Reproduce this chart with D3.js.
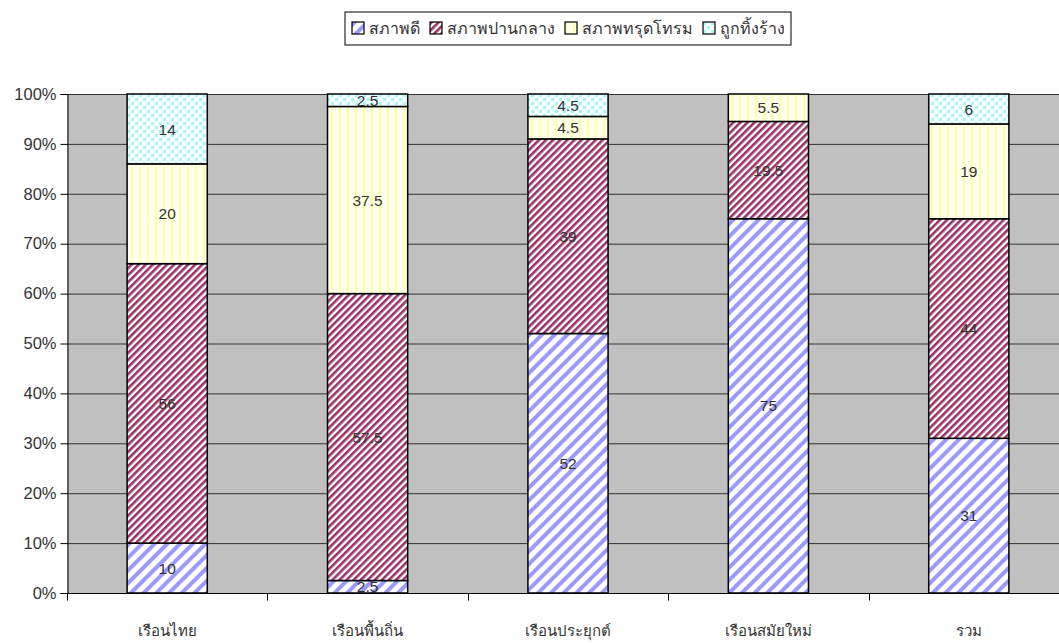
<!DOCTYPE html>
<html>
<head>
<meta charset="utf-8">
<script src="https://cdn.jsdelivr.net/npm/d3@7"></script>
<style>
  body { margin: 0; background: #fff; }
  svg { display: block; font-family: "Liberation Sans", Arial, "Noto Sans", sans-serif; }
</style>
</head>
<body>
<div id="chart"></div>
<script>
// stacked 100% bars - condition of houses by type

const categories = ["เรือนไทย", "เรือนพื้นถิ่น", "เรือนประยุกต์", "เรือนสมัยใหม่", "รวม"];
const seriesNames = ["สภาพดี", "สภาพปานกลาง", "สภาพทรุดโทรม", "ถูกทิ้งร้าง"];
const goodValues = [10, 2.5, 52, 75, 31];
const moderateValues = [56, 57.5, 39, 19.5, 44];
const poorValues = [20, 37.5, 4.5, 5.5, 19];
const abandonedValues = [14, 2.5, 4.5, 0, 6];
const yTicks = [0, 10, 20, 30, 40, 50, 60, 70, 80, 90, 100];

const width = 1059, height = 643;
const margin = { top: 94, right: -10, bottom: 50, left: 67 };
const innerWidth = width - margin.left - margin.right;
const innerHeight = height - margin.top - margin.bottom;

const svg = d3.select("#chart").append("svg")
    .attr("width", width).attr("height", height);

// fill patterns, one per series
const defs = svg.append("defs");
function stripes(id, size, bg, fg, sw, angle) {
    const p = defs.append("pattern").attr("id", id)
        .attr("patternUnits", "userSpaceOnUse")
        .attr("width", size).attr("height", size)
        .attr("patternTransform", `rotate(${angle})`);
    p.append("rect").attr("width", size).attr("height", size).attr("fill", bg);
    p.append("rect").attr("width", sw).attr("height", size).attr("fill", fg);
}
stripes("pGood", 9, "#ffffff", "#9999ff", 4, 45);
stripes("pMod", 5, "#ffffff", "#993366", 2.6, 45);
stripes("pPoor", 8, "#ffffee", "#ffffaa", 2, 0);
const dots = defs.append("pattern").attr("id", "pAb")
    .attr("patternUnits", "userSpaceOnUse").attr("width", 8).attr("height", 8);
dots.append("rect").attr("width", 8).attr("height", 8).attr("fill", "#f4ffff");
dots.append("rect").attr("x", 0).attr("y", 0).attr("width", 3).attr("height", 3).attr("fill", "#aaf4f4");
dots.append("rect").attr("x", 4).attr("y", 4).attr("width", 3).attr("height", 3).attr("fill", "#aaf4f4");
const fills = ["url(#pGood)", "url(#pMod)", "url(#pPoor)", "url(#pAb)"];

const rows = categories.map((c, i) => ({
    cat: c, s0: goodValues[i], s1: moderateValues[i], s2: poorValues[i], s3: abandonedValues[i]
}));
const stack = d3.stack().keys(["s0", "s1", "s2", "s3"])(rows);

const g = svg.append("g").attr("transform", `translate(${margin.left},${margin.top})`);

const x = d3.scaleBand().domain(categories).range([0, innerWidth]).paddingInner(0.6).paddingOuter(0.3);
const xEdge = d3.scaleBand().domain(categories).range([0, innerWidth]).padding(0);
const y = d3.scaleLinear().domain([0, 100]).range([innerHeight, 0]);

// plot background + gridlines
g.append("rect").attr("width", innerWidth).attr("height", innerHeight).attr("fill", "#c0c0c0");
g.append("g").selectAll("line").data(yTicks.slice(1)).join("line")
    .attr("x1", 0).attr("x2", innerWidth)
    .attr("y1", d => y(d) + 0.5).attr("y2", d => y(d) + 0.5)
    .attr("stroke", "#333").attr("stroke-width", 1);

// y axis
g.append("g").attr("transform", "translate(0.5,0)")
    .call(d3.axisLeft(y).tickValues(yTicks).tickFormat(d => d + "%").tickSize(7).tickPadding(4))
    .call(a => a.selectAll("text").attr("font-size", 16.5).attr("fill", "#333").attr("font-family", "Liberation Sans, Arial, sans-serif"))
    .call(a => a.selectAll("line, path").attr("stroke", "#000"));

// x axis: ticks on category boundaries
const xa = g.append("g").attr("transform", `translate(0,${innerHeight + 0.5})`);
xa.append("line").attr("x1", 0).attr("x2", innerWidth).attr("stroke", "#000");
xa.selectAll(".tk").data(categories).join("line")
    .attr("x1", d => Math.round(xEdge(d)) + 0.5).attr("x2", d => Math.round(xEdge(d)) + 0.5)
    .attr("y1", 0).attr("y2", 7).attr("stroke", "#000");
xa.selectAll("text").data(categories).join("text")
    .attr("x", d => x(d) + x.bandwidth() / 2).attr("y", 42)
    .attr("text-anchor", "middle").attr("font-size", 15).attr("fill", "#333")
    .text(d => d);

// bars
const layers = g.selectAll(".layer").data(stack).join("g")
    .attr("class", "layer").attr("fill", (d, i) => fills[i]);
layers.selectAll("rect").data(d => d.filter(v => v[1] - v[0] > 0)).join("rect")
    .attr("x", d => x(d.data.cat))
    .attr("y", d => y(d[1]))
    .attr("width", x.bandwidth())
    .attr("height", d => y(d[0]) - y(d[1]))
    .attr("stroke", "#000").attr("stroke-width", 1.5);

// value labels
layers.selectAll("text").data(d => d.filter(v => v[1] - v[0] > 0)).join("text")
    .attr("x", d => x(d.data.cat) + x.bandwidth() / 2)
    .attr("y", d => y((d[0] + d[1]) / 2))
    .attr("dy", "0.36em").attr("text-anchor", "middle")
    .attr("font-size", 15.5).attr("fill", "#333")
    .text(d => d3.format("~g")(d[1] - d[0]));

// legend, items laid out from measured text widths
const lg = svg.append("g").attr("transform", "translate(345,12)");
lg.append("rect").attr("width", 446).attr("height", 33).attr("fill", "#fff").attr("stroke", "#000");
let lx = 7;
seriesNames.forEach((name, i) => {
    const it = lg.append("g").attr("transform", `translate(${lx},10)`);
    it.append("rect").attr("width", 12).attr("height", 12)
        .attr("fill", fills[i]).attr("stroke", "#000").attr("stroke-width", 1.2);
    const t = it.append("text").attr("x", 17).attr("y", 12)
        .attr("font-size", 16).attr("fill", "#333").text(name);
    lx += 17 + t.node().getComputedTextLength() + 10;
});
</script>
</body>
</html>
